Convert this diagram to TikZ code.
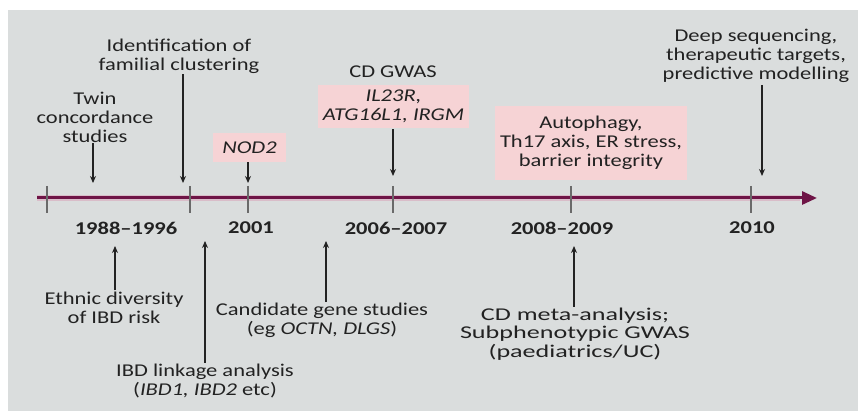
\documentclass[tikz,border=0pt]{standalone}
\usepackage{fontspec}
\setmainfont{Carlito}[FakeStretch=1.25]
\newfontfamily\widefont{Carlito}[FakeStretch=1.45]
\usetikzlibrary{arrows.meta}
\definecolor{bggray}{HTML}{DADDDD}
\definecolor{pinkbox}{HTML}{F6D3D5}
\definecolor{maroon}{HTML}{6E1446}
\definecolor{glow}{HTML}{D9A9BC}
\definecolor{txt}{HTML}{222222}
\definecolor{tickgray}{HTML}{6A6A6A}
\tikzset{
  lbl/.style={align=center, inner sep=0pt, text=txt, font=\fontsize{18}{19}\selectfont},
  yr/.style={inner sep=0pt, text=txt, font=\fontsize{18}{19}\selectfont\bfseries},
  pbox/.style={lbl, fill=pinkbox},
  arr/.style={draw=txt, line width=1.2pt, -{Stealth[length=7pt,width=6pt]}},
  tickline/.style={draw=tickgray, line width=1.3pt},
}
\begin{document}
\begin{tikzpicture}[x=1pt,y=-1pt]
\useasboundingbox (0,0) rectangle (860,411);
\fill[white] (0,0) rectangle (860,411);
\fill[bggray] (8,10) rectangle (858,411);

% axis
\coordinate (axL) at (37,198);
\coordinate (axR) at (817,198);
\draw[glow, line width=6pt, opacity=0.6] (axL) -- (800,198);
\draw[maroon, line width=3pt, -{Triangle[length=15pt,width=13pt]}] (axL) -- (axR);

% ticks
\foreach \n/\x in {t1/47, t2/190, t3/248, t4/393, t5/571, t6/751}{
  \coordinate (\n a) at (\x,186);
  \coordinate (\n b) at (\x,213);
  \draw[tickline] (\n a) -- (\n b);
}

% years
\node[yr] (y1) at (126,228) {1988–1996};
\node[yr] (y2) at (251,228) {2001};
\node[yr] (y3) at (396,228) {2006–2007};
\node[yr] (y4) at (562,228) {2008–2009};
\node[yr] (y5) at (752,228) {2010};

% labels above
\node[lbl] (twin) at (95,117) {Twin\\concordance\\studies};
\node[lbl] (ident) at (179,56) {Identification of\\familial clustering};
\node[pbox, minimum width=73pt, minimum height=29pt] (nod) at (249.5,147.5) {\itshape NOD2};
\node[lbl] (gwas) at (393,72) {CD GWAS};
\node[pbox, minimum width=151pt, minimum height=43pt] (genes) at (393.5,106.5) {\itshape IL23R,\\\itshape ATG16L1, IRGM};
\node[pbox, minimum width=192pt, minimum height=74pt] (auto) at (591,143) {Autophagy,\\Th17 axis, ER stress,\\barrier integrity};
\node[lbl] (deep) at (756,56) {Deep sequencing,\\therapeutic targets,\\predictive modelling};

% labels below
\node[lbl] (ethnic) at (114,307.5) {Ethnic diversity\\of IBD risk};
\node[lbl] (link) at (205,381) {IBD linkage analysis\\(\textit{IBD1, IBD2} etc)};
\node[lbl] (cand) at (322,320.5) {Candidate gene studies\\(eg \textit{OCTN, DLGS})};
\node[lbl, font=\fontsize{18}{18.5}\selectfont\widefont] (meta) at (575,334) {CD meta-analysis;\\Subphenotypic GWAS\\(paediatrics/UC)};

% arrow end points
\coordinate (e1) at (93,183);
\coordinate (e2) at (183,183);
\coordinate (e3) at (248,183);
\coordinate (e4) at (393,176);
\coordinate (e5) at (762,176);
\coordinate (f1) at (115,246);
\coordinate (f2) at (205,241);
\coordinate (f3) at (326,241);
\coordinate (f4) at (574,246);

\draw[arr] (twin.south -| e1) ++(0,1) -- (e1);
\draw[arr] (ident.south -| e2) ++(0,1) -- (e2);
\draw[arr] (nod.south -| e3) -- (e3);
\draw[arr] (genes.south -| e4) ++(0,1) -- (e4);
\draw[arr] (deep.south -| e5) ++(0,2) -- (e5);
\draw[arr] (ethnic.north -| f1) ++(0,-1) -- (f1);
\draw[arr] (link.north -| f2) ++(0,-1) -- (f2);
\draw[arr] (cand.north -| f3) ++(0,-1) -- (f3);
\draw[arr] (meta.north -| f4) ++(0,-1) -- (f4);
\end{tikzpicture}
\end{document}
